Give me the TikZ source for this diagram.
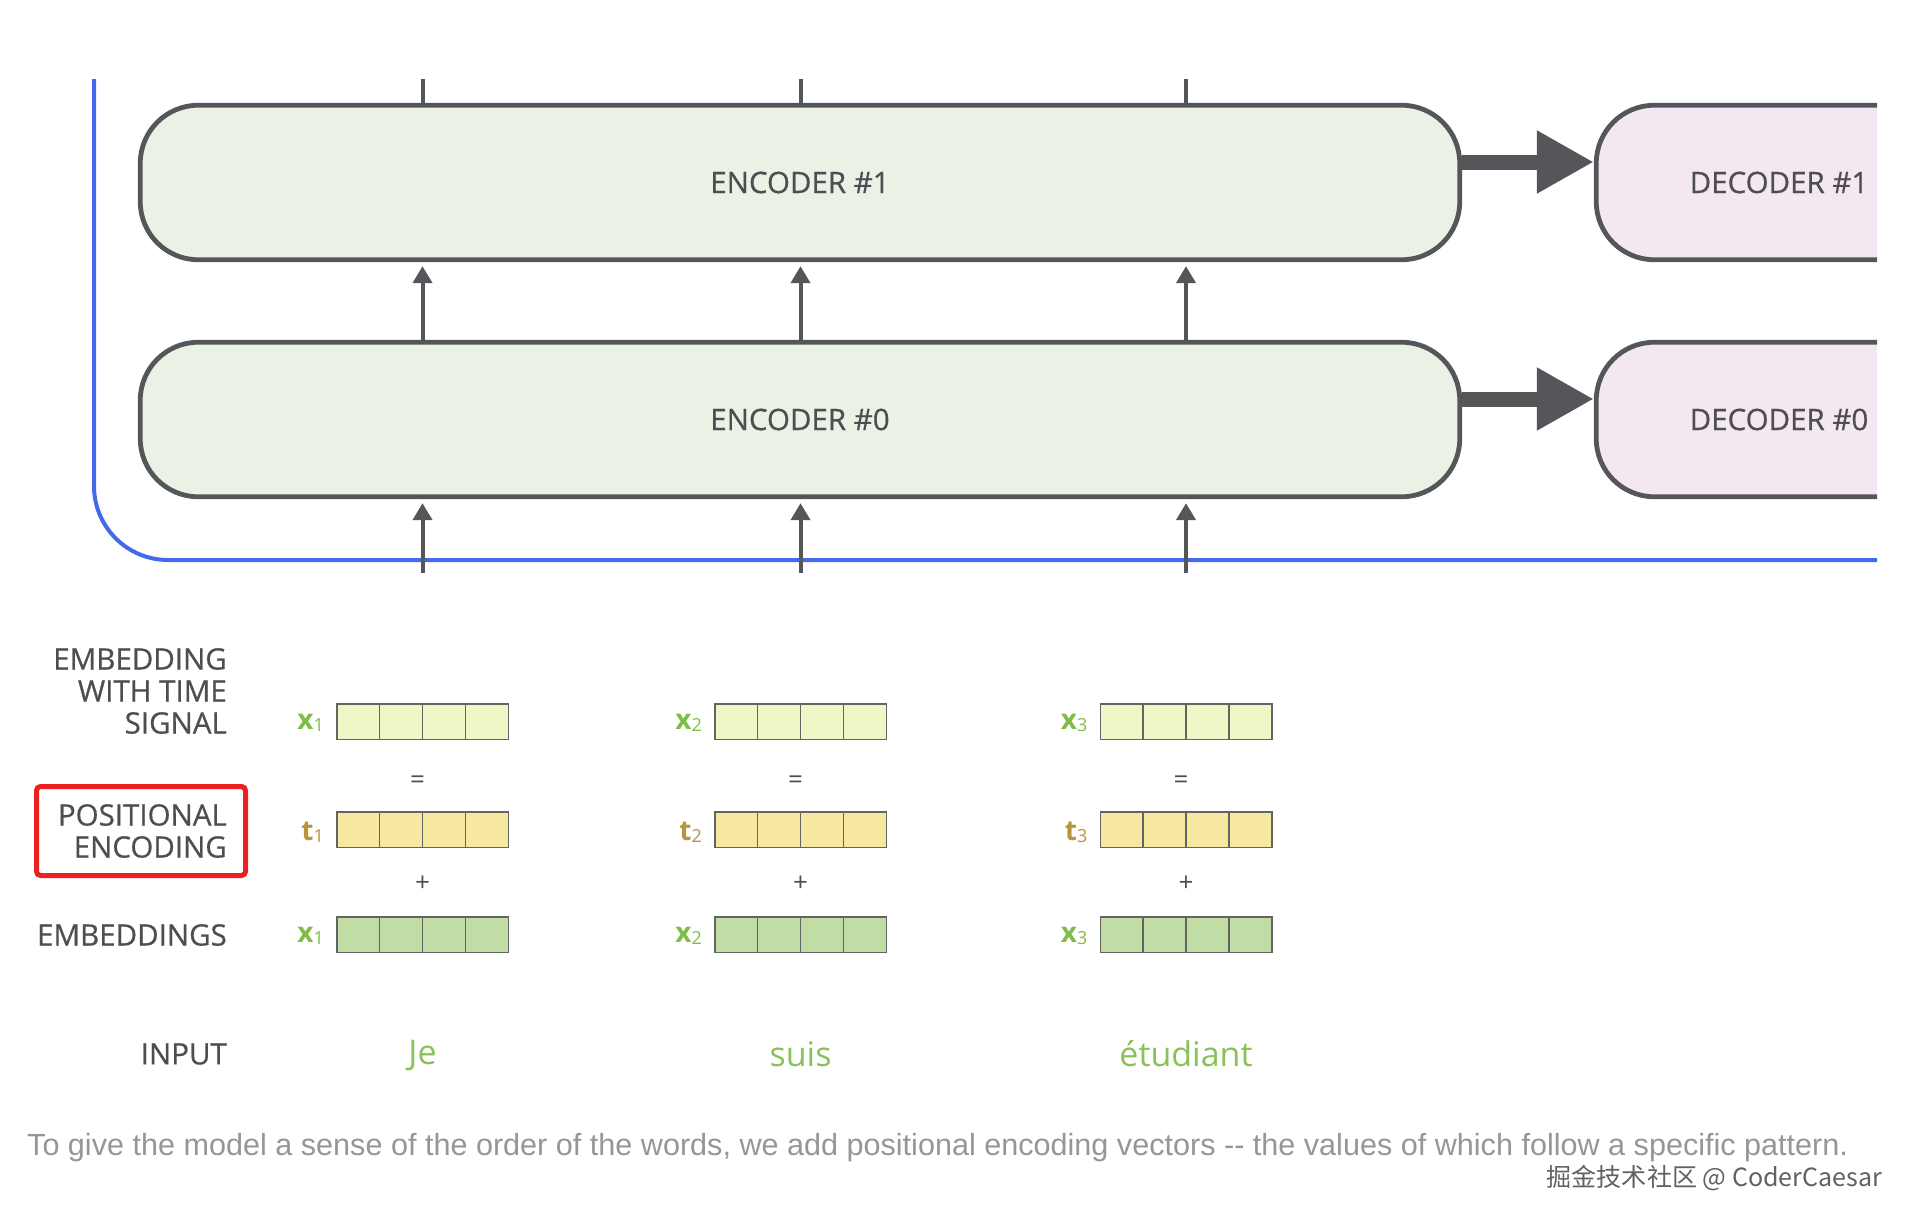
\documentclass[tikz,border=0pt]{standalone}
\usepackage{fontspec}
\setmainfont{Open Sans}
\newfontfamily\semifont[FakeBold=0.6]{Open Sans}
\newfontfamily\capfont{Liberation Sans}
\newfontfamily\cjkfont{Noto Sans CJK SC}
\usetikzlibrary{arrows.meta,calc}
\definecolor{dgray}{RGB}{84,86,90}
\definecolor{tgray}{RGB}{78,78,82}
\definecolor{encfill}{RGB}{234,242,229}
\definecolor{decfill}{RGB}{243,231,242}
\definecolor{bline}{RGB}{70,104,236}
\definecolor{rowa}{RGB}{239,246,198}
\definecolor{rowb}{RGB}{247,232,160}
\definecolor{rowc}{RGB}{194,220,166}
\definecolor{cellgray}{RGB}{100,100,100}
\definecolor{xgreen}{RGB}{128,188,72}
\definecolor{tgold}{RGB}{185,148,60}
\definecolor{wgreen}{RGB}{137,194,88}
\definecolor{capgray}{RGB}{150,150,150}
\definecolor{redbox}{RGB}{236,32,32}
\newcommand\veclab[2]{{\bfseries #1}{\fontsize{18}{18}\selectfont\raisebox{-1.5pt}{#2}}}
\begin{document}
\begin{tikzpicture}[x=1pt,y=-1pt,
  coder/.style={draw=dgray, line width=4.8pt, rounded corners=58pt, minimum height=154.5pt,
    inner sep=0pt, text=tgray, font=\semifont\fontsize{29.5}{34}\selectfont},
  encbox/.style={coder, fill=encfill, minimum width=1319.5pt},
  decbox/.style={coder, fill=decfill, minimum width=365.5pt},
  bigarrow/.style={draw=dgray, line width=15pt, -{Triangle[length=57pt,width=59pt]}},
  varrow/.style={draw=dgray, line width=4pt, -{Triangle[length=17pt,width=19pt]}, shorten >=4pt},
  vline/.style={draw=dgray, line width=4pt},
  vec/.style={draw=cellgray, line width=1.5pt, minimum width=171.5pt, minimum height=35.5pt, inner sep=0pt,
    path picture={\foreach \f in {0.25,0.5,0.75}
      \draw[cellgray, line width=1.5pt] ($(path picture bounding box.north west)!\f!(path picture bounding box.north east)$)
        -- ($(path picture bounding box.south west)!\f!(path picture bounding box.south east)$);}},
  lab/.style={inner sep=0pt, text=tgray, font=\semifont\fontsize{29.5}{32}\selectfont},
  xlab/.style={inner sep=0pt, text=xgreen, font=\fontsize{28}{28}\selectfont, anchor=base east},
  tlab/.style={xlab, text=tgold},
  op/.style={inner sep=0pt, text=tgray, font=\fontsize{26}{26}\selectfont},
  word/.style={inner sep=0pt, text=wgreen, font=\fontsize{34}{34}\selectfont},
]
\useasboundingbox (0,0) rectangle (1913,1223);

% blue frame line
\draw[bline, line width=4pt, rounded corners=74pt] (94,79) -- (94,560) -- (1877,560);

% encoders
\node[encbox] (enc1) at (800,182.5) {ENCODER \#1};
\node[encbox] (enc0) at (800,419.5) {ENCODER \#0};

% decoders (cut at the right edge)
\begin{scope}
\clip (1500,0) rectangle (1877,560);
\node[decbox] (dec1) at (1779,182.5) {DECODER \#1};
\node[decbox] (dec0) at (1779,419.5) {DECODER \#0};
\end{scope}

\draw[bigarrow] ([yshift=20.5pt]enc1.east) -- ([yshift=20.5pt]dec1.west);
\draw[bigarrow] ([yshift=20.5pt]enc0.east) -- ([yshift=20.5pt]dec0.west);

% vectors
\foreach \c/\cx in {1/422.5,2/800.5,3/1186}{
  \node[vec, fill=rowa] (va\c) at (\cx,721.5) {};
  \node[vec, fill=rowb] (vb\c) at (\cx,829.5) {};
  \node[vec, fill=rowc] (vc\c) at (\cx,934.5) {};
  \node[xlab] (la\c) at ([xshift=-12pt,yshift=-8pt]va\c.west) {\veclab{x}{\c}};
  \node[tlab] (lb\c) at ([xshift=-12pt,yshift=-11pt]vb\c.west) {\veclab{t}{\c}};
  \node[xlab] (lc\c) at ([xshift=-12pt,yshift=-8pt]vc\c.west) {\veclab{x}{\c}};
  \node[op] (eq\c) at ([xshift=-5pt]\cx,782) {=};
  \node[op] (pl\c) at (\cx,884) {+};
  \coordinate (in\c) at (\cx,573);
  \coordinate (top\c) at (\cx,79);
  \draw[varrow] (in\c) -- (enc0.south -| in\c);
  \draw[varrow] (enc0.north -| in\c) -- (enc1.south -| in\c);
  \draw[vline] (enc1.north -| top\c) -- (top\c);
}

\node[word] (w1) at (422.5,1056) {Je};
\node[word] (w2) at (800.5,1054) {suis};
\node[word] (w3) at (1186,1054) {étudiant};

% left labels
\node[lab, anchor=east, align=right] (lab1) at (227,691) {EMBEDDING\\WITH TIME\\SIGNAL};
\node[lab, anchor=east, align=right] (lab2) at (227,831) {POSITIONAL\\ENCODING};
\node[lab, anchor=east] (lab3) at (227,935) {EMBEDDINGS};
\node[lab, anchor=east] (lab4) at (227,1054) {INPUT};
\draw[redbox, line width=5pt, rounded corners=4pt] (36.5,786.5) rectangle (245.5,875.5);

% caption and watermark
\node[anchor=west, inner sep=0pt, text=capgray] (cap) at (27,1148)
  {\resizebox{1821pt}{!}{\capfont\fontsize{28}{30}\selectfont To give the model a sense of the order of the words, we add positional encoding vectors -{}- the values of which follow a specific pattern.}};
\node[anchor=east, inner sep=0pt, text=black!62] (wm) at (1882,1178)
  {\resizebox{335pt}{!}{\cjkfont\fontsize{26}{26}\selectfont 掘金技术社区 @ CoderCaesar}};
\end{tikzpicture}
\end{document}
